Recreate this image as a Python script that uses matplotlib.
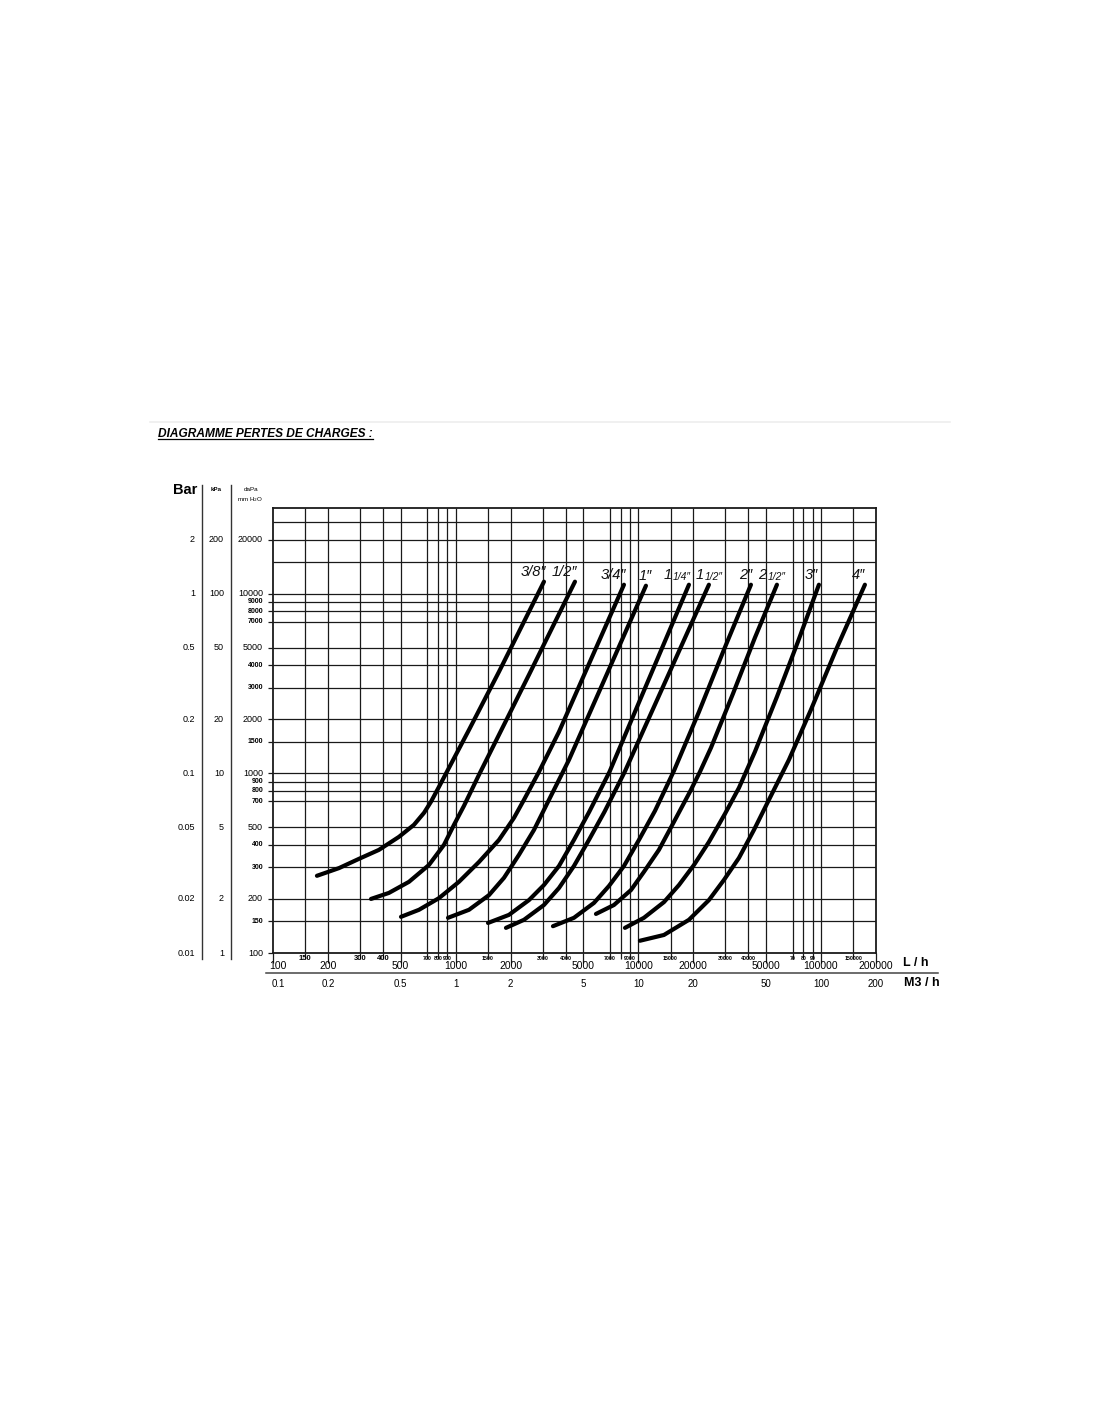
import matplotlib
matplotlib.use("Agg")
import matplotlib.pyplot as plt
from matplotlib.transforms import blended_transform_factory
from matplotlib.lines import Line2D

plt.rcParams['font.family'] = ['Liberation Sans', 'DejaVu Sans']

# ---------------- data ----------------
pipe_main = ['3/8″', '1/2″', '3/4″', '1″', '1', '1', '2″', '2', '3″', '4″']
pipe_frac = ['', '', '', '', '1/4″', '1/2″', '', '1/2″', '', '']

q_38 = [174, 230, 295, 380, 489, 591, 671, 732, 810, 919, 1183, 1726, 2221, 3043]
p_38 = [269, 297, 334, 375, 443, 517, 603, 694, 841, 1073, 1747, 3677, 6142, 11668]

q_12 = [344, 431, 555, 714, 863, 979, 1110, 1341, 1726, 2519, 4498]
p_12 = [200, 216, 249, 309, 400, 517, 659, 981, 1639, 3538, 11668]

q_34 = [502, 630, 810, 1042, 1341, 1726, 2085, 2365, 2857, 3677, 8342]
p_34 = [159, 174, 202, 249, 321, 426, 565, 712, 1019, 1703, 11223]

q_1 = [908, 1183, 1522, 1838, 2221, 2683, 3241, 4171, 11006]
p_1 = [157, 174, 210, 262, 352, 484, 712, 1189, 11080]

q_114 = [1503, 1957, 2519, 3043, 3677, 4441, 5380, 6950, 18923]
p_114 = [147, 163, 197, 239, 305, 426, 610, 1019, 11223]

q_112 = [1885, 2365, 3043, 3677, 4441, 5364, 6520, 8420, 24340]
p_112 = [138, 153, 185, 230, 305, 426, 610, 1019, 11223]

q_2 = [3409, 4441, 5715, 6903, 8342, 10076, 12330, 15660, 21470, 29410, 41340]
p_2 = [141, 157, 190, 236, 305, 426, 618, 1032, 2200, 4875, 11223]

q_212 = [5862, 7352, 9110, 10730, 12960, 15660, 19160, 21730, 24970, 32950,
         43460, 57370]
p_212 = [165, 185, 224, 283, 375, 537, 789, 1019, 1387, 2773, 5688, 11223]

q_3 = [8446, 10730, 13810, 16690, 20160, 24340, 29790, 35530, 43460, 57370,
       74750, 97390]
p_3 = [138, 157, 192, 239, 309, 415, 595, 830, 1318, 2668, 5403, 11223]

q_4 = [10200, 13810, 18920, 24340, 29410, 35530, 42930, 51850, 66720, 88050,
       122200, 173900]
p_4 = [117, 126, 153, 197, 255, 338, 484, 712, 1189, 2258, 5003, 11223]

curves_q = [q_38, q_12, q_34, q_1, q_114, q_112, q_2, q_212, q_3, q_4]
curves_p = [p_38, p_12, p_34, p_1, p_114, p_112, p_2, p_212, p_3, p_4]

grid_q = [150, 200, 300, 400, 500, 700, 800, 900, 1000, 1500, 2000, 3000, 4000,
          5000, 7000, 8000, 9000, 10000, 15000, 20000, 30000, 40000, 50000,
          70000, 80000, 90000, 100000, 150000]
grid_p = [150, 200, 300, 400, 500, 700, 800, 900, 1000, 1500, 2000, 3000, 4000,
          5000, 7000, 8000, 9000, 10000, 15000, 20000, 25000]

bar_vals = [2, 1, 0.5, 0.2, 0.1, 0.05, 0.02, 0.01]
bar_text = ['2', '1', '0.5', '0.2', '0.1', '0.05', '0.02', '0.01']
kpa_vals = [200, 100, 50, 20, 10, 5, 2, 1]
dapa_major = [20000, 10000, 5000, 2000, 1000, 500, 200, 100]
dapa_minor = [9000, 8000, 7000, 4000, 3000, 1500, 900, 800, 700, 400, 300, 150]

lh_major = [100, 200, 500, 1000, 2000, 5000, 10000, 20000, 50000, 100000, 200000]
lh_mid = [150, 300, 400]
lh_small = [700, 800, 900, 1500, 3000, 4000, 7000, 9000, 15000, 30000, 40000,
            70000, 80000, 90000, 150000]
lh_small_text = ['700', '800', '900', '1500', '3000', '4000', '7000', '9000', '15000',
                 '30000', '40000', '70', '80', '90', '150000']
m3h_vals = [0.1, 0.2, 0.5, 1, 2, 5, 10, 20, 50, 100, 200]
m3h_text = ['0.1', '0.2', '0.5', '1', '2', '5', '10', '20', '50', '100', '200']

# ---------------- layout ----------------
W, H = 1100, 1422
fig = plt.figure(figsize=(W / 100, H / 100), dpi=100)


def fx(px):
    return px / W


def fy(py):
    return 1 - py / H


ax = fig.add_axes([fx(273), fy(953), fx(876) - fx(273), fy(508) - fy(953)])
ax.set_xscale('log')
ax.set_yscale('log')
ax.set_xlim(100, 200000)
ax.set_ylim(100, 30000)

ink = '#1a1a1a'
ax.vlines(grid_q, 100, 30000, colors=ink, linewidth=0.9, zorder=1)
ax.hlines(grid_p, 100, 200000, colors=ink, linewidth=0.9, zorder=1)
for s in ax.spines.values():
    s.set_linewidth(1.3)
    s.set_color(ink)

for q, p in zip(curves_q, curves_p):
    ax.plot(q, p, color='black', linewidth=3.0, solid_capstyle='round',
            solid_joinstyle='round', zorder=3)

# curve labels (offsets in points from curve end)
label_dx = [1.5, 1.5, 1.5, 4, 1, 10, 1, 6, -1, 0]
for main, frac, q, p, dx in zip(pipe_main, pipe_frac, curves_q, curves_p, label_dx):
    if frac:
        ax.annotate(frac, xy=(q[-1], p[-1]), xytext=(dx, 2.0),
                    textcoords='offset points', ha='right', va='bottom',
                    fontsize=7.5, style='italic', color='#111', zorder=4)
        ax.annotate(main, xy=(q[-1], p[-1]), xytext=(dx - 13.5, 2.0),
                    textcoords='offset points', ha='right', va='bottom',
                    fontsize=10.5, style='italic', color='#111', zorder=4)
    else:
        ax.annotate(main, xy=(q[-1], p[-1]), xytext=(dx, 2.0),
                    textcoords='offset points', ha='right', va='bottom',
                    fontsize=10.5, style='italic', color='#111', zorder=4)

# ticks
ax.set_xticks(lh_major)
ax.set_xticks([v for v in grid_q if v not in lh_major], minor=True)
ax.set_yticks(dapa_major + dapa_minor)
ax.set_yticks([], minor=True)
ax.tick_params(axis='x', which='major', length=7, width=0.9, direction='out',
               labelbottom=False, color=ink)
ax.tick_params(axis='x', which='minor', length=4, width=0.9, direction='out',
               labelbottom=False, color=ink)
ax.tick_params(axis='y', which='major', length=3.5, width=0.9, direction='out',
               labelleft=False, color=ink)

# left label columns
ty = blended_transform_factory(fig.transFigure, ax.transData)
for v, t in zip(bar_vals, bar_text):
    fig.text(fx(195), v * 10000, t, transform=ty, ha='right', va='center',
             fontsize=6.5)
for v in kpa_vals:
    fig.text(fx(224), v * 100, str(v), transform=ty, ha='right', va='center',
             fontsize=6.5)
for v in dapa_major:
    fig.text(fx(263), v, str(v), transform=ty, ha='right', va='center',
             fontsize=6.5)
for v in dapa_minor:
    fig.text(fx(263), v, str(v), transform=ty, ha='right', va='center',
             fontsize=5, fontweight='bold')

fig.text(fx(185), fy(490), 'Bar', ha='center', va='center', fontsize=10.5,
         fontweight='bold')
fig.text(fx(216), fy(490), 'kPa', ha='center', va='center', fontsize=4.5,
         fontweight='bold')
fig.text(fx(251), fy(490), 'daPa', ha='center', va='center', fontsize=4.5)
fig.text(fx(250), fy(500), 'mm H$_2$O', ha='center', va='center', fontsize=4.5)

for xp in (202, 231):
    fig.add_artist(Line2D([fx(xp), fx(xp)], [fy(485), fy(959)], color='#333',
                          linewidth=1.0))

# bottom labels
tx = blended_transform_factory(ax.transData, fig.transFigure)
for v in lh_major:
    xoff = 106 if v == 100 else v
    fig.text(xoff, fy(966), str(v), transform=tx, ha='center', va='center',
             fontsize=7.5)
for v in lh_mid:
    fig.text(v, fy(958.5), str(v), transform=tx, ha='center', va='center',
             fontsize=5.5, fontweight='bold')
for v, t in zip(lh_small, lh_small_text):
    fig.text(v, fy(958), t, transform=tx, ha='center', va='center',
             fontsize=3.8, fontweight='bold')
for v, t in zip(m3h_vals, m3h_text):
    xoff = 107 if v == 0.1 else v * 1000
    fig.text(xoff, fy(984), t, transform=tx, ha='center', va='center',
             fontsize=7)

fig.text(fx(903), fy(963), 'L / h', ha='left', va='center', fontsize=9,
         fontweight='bold')
fig.text(fx(904), fy(983), 'M3 / h', ha='left', va='center', fontsize=9,
         fontweight='bold')
fig.add_artist(Line2D([fx(266), fx(938)], [fy(972.5), fy(972.5)], color='#444',
                      linewidth=1.1))

# title
fig.add_artist(Line2D([fx(150), fx(950)], [fy(422), fy(422)], color='#eeeeee',
                      linewidth=1.2))
fig.text(fx(158), fy(434), 'DIAGRAMME PERTES DE CHARGES :', ha='left',
         va='center', fontsize=8.6, fontweight='bold', style='italic')
fig.add_artist(Line2D([fx(158), fx(373)], [fy(439.5), fy(439.5)], color='black',
                      linewidth=0.9))

fig.savefig('out.png', dpi=100, facecolor='white')
